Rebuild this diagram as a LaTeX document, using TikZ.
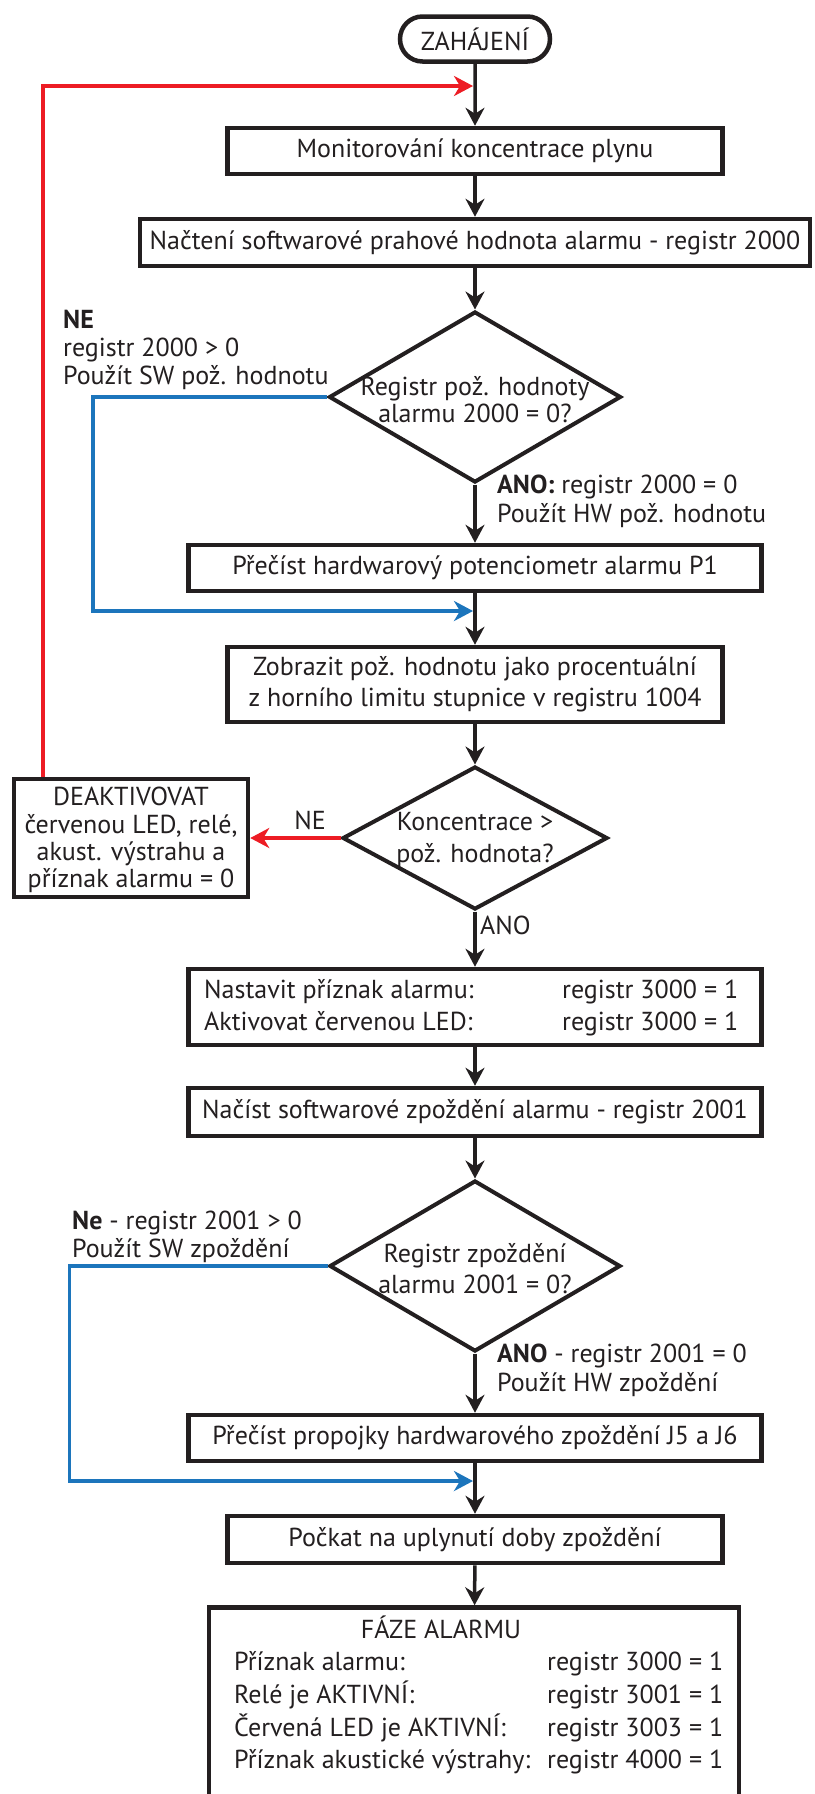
\documentclass[tikz,border=0pt]{standalone}
\usepackage{fontspec}
\setmainfont{PT Sans}
\usetikzlibrary{arrows.meta,shapes.geometric,shapes.misc}
\definecolor{ink}{HTML}{231F20}
\definecolor{rd}{HTML}{ED1C24}
\definecolor{bl}{HTML}{1C75BC}
\newcommand\myfs{\fontsize{26}{28}\selectfont}
\tikzset{
  box/.style={draw=ink, line width=4.5pt, rectangle, inner sep=0pt, minimum height=46pt, font=\myfs, text=ink, align=center},
  term/.style={draw=ink, line width=4.5pt, rounded rectangle, inner sep=0pt, minimum width=150pt, minimum height=45pt, font=\myfs, text=ink},
  dia/.style={draw=ink, line width=4pt, diamond, inner sep=0pt},
  txt/.style={font=\myfs, text=ink, inner sep=0pt, text height=18.5pt, text depth=6.5pt},
  dtxt/.style={font=\myfs, text=ink, inner sep=0pt, align=center},
  arr/.style={draw=ink, line width=3.5pt, -{Stealth[length=18pt,width=19pt,inset=6pt]}},
  redarr/.style={draw=rd, line width=3.8pt, -{Stealth[length=19pt,width=20pt,inset=6pt]}},
  bluearr/.style={draw=bl, line width=3.8pt, -{Stealth[length=19pt,width=20pt,inset=6pt]}}
}
\begin{document}
\begin{tikzpicture}[x=1pt,y=-1pt]
\useasboundingbox (0,0) rectangle (814,1794);
\fill[white] (0,0) rectangle (814,1794);

% nodes
\node[term] (start) at (475,39) {ZAHÁJENÍ};
\node[box, minimum width=495pt] (b1) at (475,151) {Monitorování koncentrace plynu};
\node[box, minimum width=670pt, minimum height=47pt] (b2) at (475,242.5) {Načtení softwarové prahové hodnota alarmu - registr 2000};
\node[dia, minimum width=292pt, minimum height=171pt] (d1) at (475,397) {};
\node[dtxt, font={\fontsize{26}{27}\selectfont}] (d1t) at (475,400) {Registr pož. hodnoty\\alarmu 2000 = 0?};
\node[box, minimum width=573pt] (b3) at (475,568) {Přečíst hardwarový potenciometr alarmu P1};
\node[box, minimum width=495pt, minimum height=75pt, font={\fontsize{26}{31}\selectfont}] (b4) at (475,684.5) {Zobrazit pož. hodnotu jako procentuální\\z horního limitu stupnice v registru 1004};
\node[dia, minimum width=265pt, minimum height=143pt] (d2) at (475,838) {};
\node[dtxt, font={\fontsize{26}{32}\selectfont}] (d2t) at (475,840) {Koncentrace >\\pož. hodnota?};
\node[box, minimum width=234pt, minimum height=118pt] (deakt) at (131,838) {};
\node[dtxt, font={\fontsize{26}{27.3}\selectfont}] (deaktt) at (131,840) {DEAKTIVOVAT\\červenou LED, relé,\\akust. výstrahu a\\příznak alarmu = 0};
\node[box, minimum width=573pt, minimum height=76pt] (b5) at (475,1007) {};
\node[txt, anchor=west] (b5a) at (204,992) {Nastavit příznak alarmu:};
\node[txt, anchor=west] (b5b) at (562,992) {registr 3000 = 1};
\node[txt, anchor=west] (b5c) at (204,1024) {Aktivovat červenou LED:};
\node[txt, anchor=west] (b5d) at (562,1024) {registr 3000 = 1};
\node[box, minimum width=573pt, minimum height=48pt] (b6) at (475,1112) {Načíst softwarové zpoždění alarmu - registr 2001};
\node[dia, minimum width=291pt, minimum height=171pt] (d3) at (475,1266) {};
\node[dtxt, font={\fontsize{26}{31}\selectfont}] (d3t) at (475,1269) {Registr zpoždění\\alarmu 2001 = 0?};
\node[box, minimum width=573pt] (b7) at (475,1438) {Přečíst propojky hardwarového zpoždění J5 a J6};
\node[box, minimum width=495pt, minimum height=47pt] (b8) at (475,1539.5) {Počkat na uplynutí doby zpoždění};
\node[box, minimum width=530pt, minimum height=189pt] (b9) at (474,1702) {};
\node[txt] (b9t) at (441,1632) {FÁZE ALARMU};
\node[txt, anchor=west] (b9a) at (234,1664) {Příznak alarmu:};
\node[txt, anchor=west] (b9b) at (547,1664) {registr 3000 = 1};
\node[txt, anchor=west] (b9c) at (234,1697) {Relé je AKTIVNÍ:};
\node[txt, anchor=west] (b9d) at (547,1697) {registr 3001 = 1};
\node[txt, anchor=west] (b9e) at (234,1730) {Červená LED je AKTIVNÍ:};
\node[txt, anchor=west] (b9f) at (547,1730) {registr 3003 = 1};
\node[txt, anchor=west] (b9g) at (234,1762) {Příznak akustické výstrahy:};
\node[txt, anchor=west] (b9h) at (547,1762) {registr 4000 = 1};

% labels
\node[txt, anchor=west] (ne1) at (63,322) {\textbf{NE}};
\node[txt, anchor=west] (ne1b) at (63,350) {registr 2000 > 0};
\node[txt, anchor=west] (ne1c) at (63,378) {Použít SW pož. hodnotu};
\node[txt, anchor=west] (ano1) at (497,487) {\textbf{ANO:} registr 2000 = 0};
\node[txt, anchor=west] (ano1b) at (497,516) {Použít HW pož. hodnotu};
\node[txt] (ne2) at (310,823) {NE};
\node[txt, anchor=west] (ano2) at (480,928) {ANO};
\node[txt, anchor=west] (ne3) at (72,1223) {\textbf{Ne} - registr 2001 > 0};
\node[txt, anchor=west] (ne3b) at (72,1251) {Použít SW zpoždění};
\node[txt, anchor=west] (ano3) at (497,1356) {\textbf{ANO} - registr 2001 = 0};
\node[txt, anchor=west] (ano3b) at (497,1385) {Použít HW zpoždění};

% join points
\coordinate (j1) at (473,86);
\coordinate (j2) at (473,611);
\coordinate (j3) at (473,1481);

% main flow
\draw[arr] (start) -- (b1);
\draw[arr] (b1) -- (b2);
\draw[arr] (b2) -- (d1);
\draw[arr] (d1) -- (b3);
\draw[arr] (b3) -- (b4);
\draw[arr] (b4) -- (d2);
\draw[arr] (d2) -- (b5);
\draw[arr] (b5) -- (b6);
\draw[arr] (b6) -- (d3);
\draw[arr] (d3) -- (b7);
\draw[arr] (b7) -- (b8);
\draw[arr] (b8) -- (b9);

% side branches
\draw[redarr] (d2.west) -- (deakt.east);
\draw[redarr] ([xshift=31pt]deakt.north west) |- (j1);
\draw[bluearr] (d1.west) -- ++(-234,0) |- (j2);
\draw[bluearr] (d3.west) -- ++(-258,0) |- (j3);
\end{tikzpicture}
\end{document}
